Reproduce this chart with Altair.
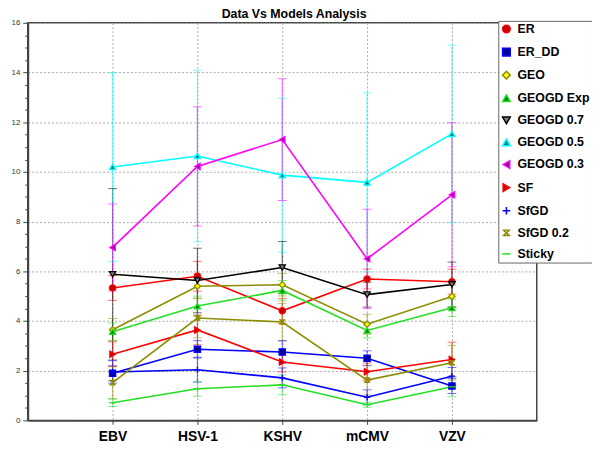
import altair as alt
import pandas as pd

viruses = ["EBV", "HSV-1", "KSHV", "mCMV", "VZV"]
series = ["ER", "ER_DD", "GEO", "GEOGD Exp", "GEOGD 0.7", "GEOGD 0.5",
          "GEOGD 0.3", "SF", "SfGD", "SfGD 0.2", "Sticky"]

er = [5.33, 5.80, 4.41, 5.69, 5.58]
er_dd = [1.90, 2.86, 2.75, 2.50, 1.38]
geo = [3.65, 5.40, 5.46, 3.87, 4.99]
geogd_exp = [3.57, 4.60, 5.23, 3.62, 4.53]
geogd_07 = [5.88, 5.63, 6.15, 5.06, 5.47]
geogd_05 = [10.20, 10.64, 9.87, 9.58, 11.53]
geogd_03 = [6.96, 10.22, 11.30, 6.50, 9.08]
sf = [2.66, 3.64, 2.35, 1.96, 2.45]
sfgd = [1.95, 2.04, 1.71, 0.93, 1.78]
sfgd_02 = [1.52, 4.12, 3.96, 1.62, 2.32]
sticky = [0.71, 1.27, 1.43, 0.63, 1.35]

er_err = [0.50, 0.60, 0.50, 0.40, 0.50]
er_dd_err = [0.30, 0.35, 0.45, 0.30, 0.30]
geo_err = [0.45, 0.50, 0.45, 0.40, 0.45]
geogd_exp_err = [0.35, 0.40, 0.40, 0.30, 0.35]
geogd_07_err = [3.45, 1.30, 1.05, 0.50, 0.90]
geogd_05_err = [3.80, 3.45, 3.10, 3.60, 3.57]
geogd_03_err = [1.75, 2.40, 2.45, 2.00, 2.90]
sf_err = [0.50, 0.60, 0.40, 0.35, 0.70]
sfgd_err = [0.45, 0.50, 0.40, 0.30, 0.35]
sfgd_02_err = [0.65, 0.80, 0.75, 0.60, 0.70]
sticky_err = [0.15, 0.30, 0.40, 0.10, 0.40]

means = [er, er_dd, geo, geogd_exp, geogd_07, geogd_05, geogd_03, sf, sfgd, sfgd_02, sticky]
errs = [er_err, er_dd_err, geo_err, geogd_exp_err, geogd_07_err, geogd_05_err,
        geogd_03_err, sf_err, sfgd_err, sfgd_02_err, sticky_err]

line_colors = ["#ff0000", "#0000ff", "#8c8c00", "#22e022", "#000000", "#00ffff",
               "#ff00ff", "#ff0000", "#0000ff", "#8c8c00", "#22e022"]
fill_colors = ["#c00000", "#000090", "#ffff00", "#008000", "#808080", "#008080",
               "#900090", "#c00000", "#0000ff", "#8c8c00", "#22e022"]
shapes = ["circle", "square", "diamond", "triangle-up", "triangle-down", "triangle-up",
          "triangle-left", "triangle-right",
          "M-1,0L1,0M0,-1L0,1",
          "M-1,-0.7L1,-0.7M-0.8,-0.7L0.8,0.7M0.8,-0.7L-0.8,0.7M-1,0.7L1,0.7",
          "M-1.1,0L1.1,0"]

rows = []
for s, lc, m, e in zip(series, line_colors, means, errs):
    for v, mv, ev in zip(viruses, m, e):
        rows.append({"series": s, "lc": lc, "virus": v, "value": mv,
                     "lo": mv - ev, "hi": mv + ev})
df = pd.DataFrame(rows)

FONT = "Liberation Sans"

x_enc = alt.X("virus:N",
              scale=alt.Scale(type="point", domain=viruses, padding=1),
              axis=alt.Axis(title=None, labelAngle=0, labelFont=FONT, labelFontSize=14,
                            labelFontWeight="bold", labelColor="#000", labelPadding=5,
                            grid=True, gridDash=[2, 2], gridColor="#aaaaaa",
                            domainColor="#444", domainWidth=2, tickColor="#444",
                            tickSize=4))
y_scale = alt.Scale(domain=[0, 16], nice=False, zero=True)
y_axis = alt.Axis(title=None, values=[i * 0.5 for i in range(33)],
                  labelExpr="datum.value % 2 === 0 ? format(datum.value, 'd') : ''",
                  labelFont=FONT, labelFontSize=8, labelColor="#333", labelPadding=3,
                  grid=True, gridDash=[2, 2], gridColor="#aaaaaa",
                  gridOpacity={"condition": {"test": "datum.value % 2 === 0", "value": 1}, "value": 0},
                  tickSize={"condition": {"test": "datum.value % 2 === 0", "value": 5}, "value": 3},
                  tickColor="#444", domainColor="#444", domainWidth=2)

stroke_scale = alt.Scale(domain=series, range=line_colors)
fill_scale = alt.Scale(domain=series, range=fill_colors)
shape_scale = alt.Scale(domain=series, range=shapes)

base = alt.Chart(df)

col = alt.Color("lc:N", scale=None)

rules = base.mark_rule(strokeWidth=1.2, opacity=0.55).encode(
    x=x_enc,
    y=alt.Y("lo:Q", scale=y_scale, axis=y_axis),
    y2="hi:Q",
    color=col,
)
caps_lo = base.mark_tick(orient="horizontal", size=9, thickness=1, opacity=0.55).encode(
    x=x_enc,
    y=alt.Y("lo:Q", scale=y_scale, axis=y_axis),
    color=col,
)
caps_hi = base.mark_tick(orient="horizontal", size=9, thickness=1, opacity=0.55).encode(
    x=x_enc,
    y=alt.Y("hi:Q", scale=y_scale, axis=y_axis),
    color=col,
)
lines = base.mark_line(strokeWidth=1.6).encode(
    x=x_enc,
    y=alt.Y("value:Q", scale=y_scale, axis=y_axis),
    color=col,
    detail="series:N",
)
legend = alt.Legend(title=None, orient="none", legendX=477, legendY=-2,
                    fillColor="white", strokeColor="#666", padding=2,
                    labelFont=FONT, labelFontSize=12.5, labelFontWeight="bold",
                    labelColor="#000", rowPadding=8.4, symbolSize=60,
                    symbolStrokeWidth=1.5, labelOffset=5, cornerRadius=0)
points = base.mark_point(filled=True, size=40, strokeWidth=1.3, opacity=1).encode(
    x=x_enc,
    y=alt.Y("value:Q", scale=y_scale, axis=y_axis),
    stroke=alt.Stroke("series:N", scale=stroke_scale, legend=legend),
    fill=alt.Fill("series:N", scale=fill_scale, legend=legend),
    shape=alt.Shape("series:N", scale=shape_scale, legend=legend),
)

chart = alt.layer(rules, caps_lo, caps_hi, lines, points).properties(
    width=516, height=403,
    autosize="none",
    padding={"left": 20, "top": 12, "right": 56, "bottom": 27},
    title=alt.TitleParams("Data Vs Models Analysis", font=FONT, fontSize=12.5,
                          fontWeight="bold", color="#000", anchor="middle",
                          dx=12, dy=5, offset=3),
).configure_view(stroke="#444", strokeWidth=1.5)

chart.save("out.html", embed_options={"renderer": "svg", "actions": False})
